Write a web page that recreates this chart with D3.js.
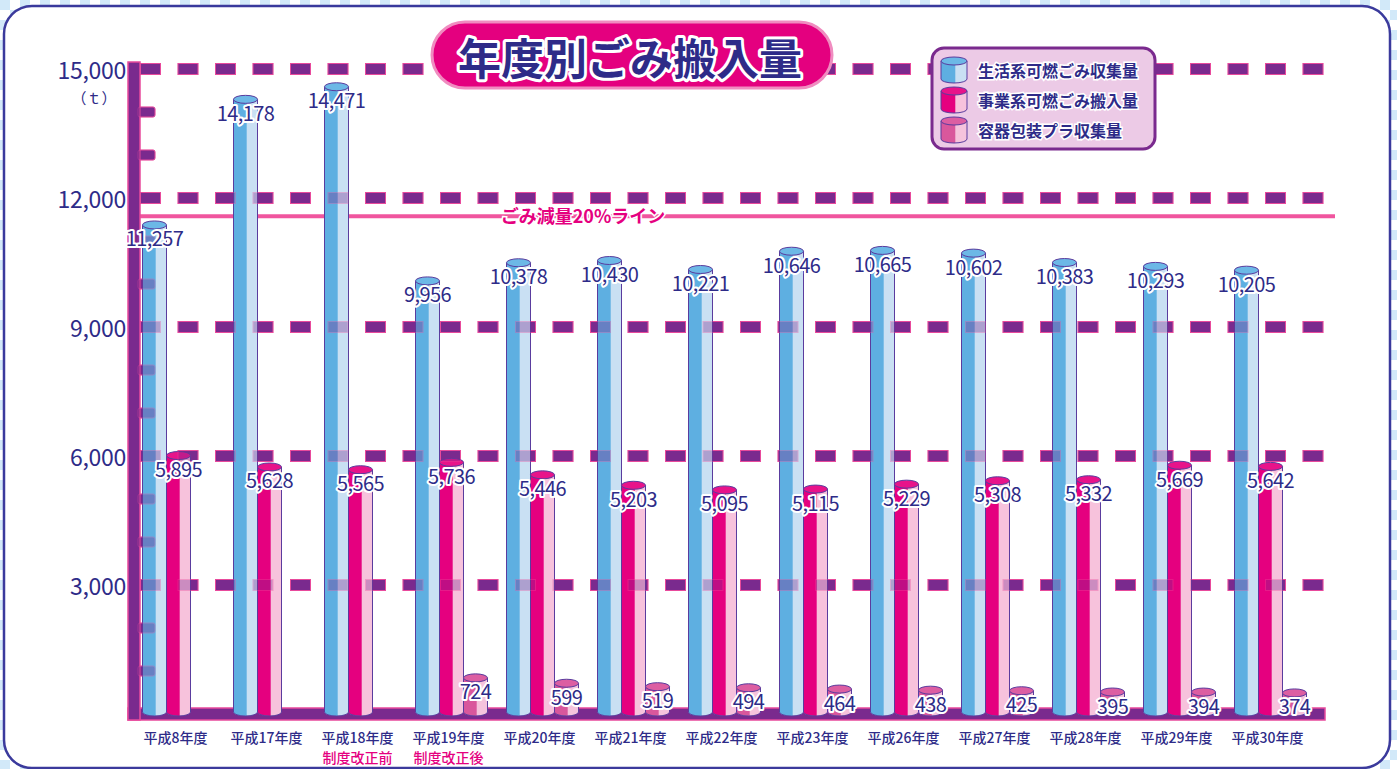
<!DOCTYPE html>
<html>
<head>
<meta charset="utf-8">
<script src="https://cdn.jsdelivr.net/npm/d3@7"></script>
<style>
  body { margin: 0; overflow: hidden; background: #fff; }
  svg { display: block; }
  text { font-family: "Noto Sans CJK JP", "Noto Sans", sans-serif; }
</style>
</head>
<body>
<svg id="chart" width="1397" height="769"></svg>
<script>
// data
const years = ["平成8年度", "平成17年度", "平成18年度", "平成19年度", "平成20年度", "平成21年度", "平成22年度",
  "平成23年度", "平成26年度", "平成27年度", "平成28年度", "平成29年度", "平成30年度"];
const burnable = [11257, 14178, 14471, 9956, 10378, 10430, 10221, 10646, 10665, 10602, 10383, 10293, 10205];
const business = [5895, 5628, 5565, 5736, 5446, 5203, 5095, 5115, 5229, 5308, 5332, 5669, 5642];
const plastic = [null, null, null, 724, 599, 519, 494, 464, 438, 425, 395, 394, 374];
const seriesNames = ["生活系可燃ごみ収集量", "事業系可燃ごみ搬入量", "容器包装プラ収集量"];
const yTicks = [3000, 6000, 9000, 12000, 15000];
const minorTicks = [1000, 2000, 4000, 5000, 7000, 8000, 10000, 11000, 13000, 14000];
const reductionLine = 11577;
const notes = { "平成18年度": "制度改正前", "平成19年度": "制度改正後" };

const colors = [
  { dark: "#5eafe1", light: "#c9e0f3", top: "#6cb8e6" },
  { dark: "#e5007f", light: "#f7c2dc", top: "#e8138a" },
  { dark: "#d9579c", light: "#f5c3dc", top: "#dc5ea2" }
];
const navy = "#2e2b88";
const purple = "#7a2a8e";
const pinkEdge = "#e84a9c";

const svg = d3.select("#chart");
const width = 1397, height = 769;

const x = d3.scaleBand().domain(years).range([133, 1316]);
const xs = d3.scaleBand().domain(d3.range(3)).range([-36, 36]);
const y = d3.scaleLinear().domain([0, 15000]).range([714, 69]);

// checker background
const defs = svg.append("defs");
const pat = defs.append("pattern").attr("id", "chk").attr("width", 20).attr("height", 20)
  .attr("patternUnits", "userSpaceOnUse");
pat.append("rect").attr("width", 20).attr("height", 20).attr("fill", "#fff");
pat.append("rect").attr("width", 10).attr("height", 10).attr("fill", "#d2e9f9");
pat.append("rect").attr("x", 10).attr("y", 10).attr("width", 10).attr("height", 10).attr("fill", "#d2e9f9");
svg.append("rect").attr("width", width).attr("height", height).attr("fill", "url(#chk)");
svg.append("rect").attr("x", 4).attr("y", 6).attr("width", 1386).attr("height", 762).attr("rx", 28)
  .attr("fill", "#fff").attr("stroke", "#3b3a9c").attr("stroke-width", 2.5);

// dashed grid
function grid(g) {
  g.selectAll(".gp").data(yTicks).join("line")
    .attr("x1", 140).attr("x2", 1326).attr("y1", d => y(d)).attr("y2", d => y(d))
    .attr("stroke", pinkEdge).attr("stroke-width", 12).attr("stroke-dasharray", "21 16.5");
  g.selectAll(".gq").data(yTicks).join("line")
    .attr("x1", 141).attr("x2", 1325).attr("y1", d => y(d)).attr("y2", d => y(d))
    .attr("stroke", purple).attr("stroke-width", 10).attr("stroke-dasharray", "19 18.5");
  g.selectAll(".mt").data(minorTicks).join("rect")
    .attr("x", 138).attr("y", d => y(d) - 5).attr("width", 17).attr("height", 10).attr("rx", 2)
    .attr("fill", purple).attr("stroke", pinkEdge).attr("stroke-width", 1);
}
svg.append("g").call(grid);

// 20% line
svg.append("line").attr("x1", 140).attr("x2", 1335)
  .attr("y1", y(reductionLine)).attr("y2", y(reductionLine))
  .attr("stroke", "#f0559e").attr("stroke-width", 4);

// axis bars
svg.append("rect").attr("x", 128).attr("y", 708).attr("width", 1197).attr("height", 12)
  .attr("fill", purple).attr("stroke", pinkEdge).attr("stroke-width", 1.5);
svg.append("rect").attr("x", 128).attr("y", 62).attr("width", 12).attr("height", 658)
  .attr("fill", purple).attr("stroke", pinkEdge).attr("stroke-width", 1.5);

function cylinder(g, x0, w, top, base, c) {
  const rx = w / 2, ry = 4, cx = x0 + rx;
  const split = x0 + w * 0.55;
  const dy = ry * Math.sqrt(1 - Math.pow((split - cx) / rx, 2));
  g.append("path")
    .attr("d", `M${x0},${top}L${x0},${base}A${rx},${ry} 0 0 0 ${x0 + w},${base}L${x0 + w},${top}Z`)
    .attr("fill", c.light);
  g.append("path")
    .attr("d", `M${x0},${top}L${x0},${base}A${rx},${ry} 0 0 0 ${split},${base + dy}L${split},${top}Z`)
    .attr("fill", c.dark);
  g.append("path")
    .attr("d", `M${x0},${top}L${x0},${base}A${rx},${ry} 0 0 0 ${x0 + w},${base}L${x0 + w},${top}`)
    .attr("fill", "none").attr("stroke", "#5a3c9e").attr("stroke-width", 1);
  g.append("ellipse").attr("cx", cx).attr("cy", top).attr("rx", rx).attr("ry", ry)
    .attr("fill", c.top).attr("stroke", "#5a3c9e").attr("stroke-width", 1);
}

const rows = years.map((yr, i) => ({ yr, vals: [burnable[i], business[i], plastic[i]] }));
const bars = svg.append("g");
rows.forEach(r => {
  r.vals.forEach((v, k) => {
    if (v == null) return;
    const x0 = x(r.yr) + x.bandwidth() / 2 + xs(k);
    cylinder(bars, x0, xs.bandwidth(), y(v) - 5, y(0) - 2, colors[k]);
  });
});

// grid shows faintly through bars
svg.append("g").attr("opacity", 0.35).call(grid);

// value labels
const labels = svg.append("g");
rows.forEach(r => {
  r.vals.forEach((v, k) => {
    if (v == null) return;
    labels.append("text")
      .attr("x", x(r.yr) + x.bandwidth() / 2 + xs(k) + xs.bandwidth() / 2)
      .attr("y", y(v) + 8)
      .attr("text-anchor", "middle").attr("dominant-baseline", "central")
      .attr("font-size", 20).attr("letter-spacing", -0.6)
      .attr("fill", navy).attr("stroke", "#fff").attr("stroke-width", 4)
      .attr("stroke-linejoin", "round").attr("paint-order", "stroke")
      .text(d3.format(",")(v));
  });
});

// y labels
svg.append("g").selectAll("text").data(yTicks).join("text")
  .attr("x", 126).attr("y", d => y(d)).attr("text-anchor", "end").attr("dominant-baseline", "central")
  .attr("font-size", 23).attr("letter-spacing", -0.3).attr("fill", navy).text(d => d3.format(",")(d));
svg.append("text").attr("x", 94).attr("y", 97).attr("text-anchor", "middle").attr("dominant-baseline", "central")
  .attr("font-size", 15).attr("fill", navy).text("（ｔ）");

// x labels
const xl = svg.append("g");
xl.selectAll(".cat").data(years).join("text")
  .attr("x", d => x(d) + x.bandwidth() / 2 - 3).attr("y", 737)
  .attr("text-anchor", "middle").attr("dominant-baseline", "central")
  .attr("font-size", 14).attr("font-weight", 500).attr("fill", navy).text(d => d);
xl.selectAll(".note").data(Object.keys(notes)).join("text")
  .attr("x", d => x(d) + x.bandwidth() / 2 - 3).attr("y", 757)
  .attr("text-anchor", "middle").attr("dominant-baseline", "central")
  .attr("font-size", 14).attr("font-weight", 500).attr("fill", "#e5007f").text(d => notes[d]);

// 20% line label
svg.append("text").attr("x", 583).attr("y", y(reductionLine) - 1)
  .attr("text-anchor", "middle").attr("dominant-baseline", "central")
  .attr("font-size", 18).attr("font-weight", 700).attr("fill", "#e5007f")
  .attr("stroke", "#fff").attr("stroke-width", 3).attr("paint-order", "stroke")
  .text("ごみ減量20%ライン");

// title
svg.append("rect").attr("x", 432).attr("y", 22).attr("width", 400).attr("height", 66).attr("rx", 33)
  .attr("fill", "#e4007f").attr("stroke", "#f08cc0").attr("stroke-width", 3);
svg.append("text").attr("x", 630).attr("y", 56)
  .attr("text-anchor", "middle").attr("dominant-baseline", "central")
  .attr("font-size", 43).attr("font-weight", 700).attr("fill", navy)
  .attr("stroke", "#fff").attr("stroke-width", 6).attr("stroke-linejoin", "round").attr("paint-order", "stroke")
  .text("年度別ごみ搬入量");

// legend
const lg = svg.append("g");
lg.append("rect").attr("x", 932).attr("y", 48).attr("width", 223).attr("height", 101).attr("rx", 12)
  .attr("fill", "#eccae6").attr("stroke", purple).attr("stroke-width", 3);
seriesNames.forEach((name, k) => {
  const cy = 70 + k * 30;
  cylinder(lg, 941, 26, cy - 9, cy + 9, colors[k]);
  lg.append("text").attr("x", 978).attr("y", cy)
    .attr("dominant-baseline", "central").attr("font-size", 16).attr("font-weight", 700)
    .attr("fill", navy).attr("stroke", "#fff").attr("stroke-width", 3).attr("paint-order", "stroke")
    .text(name);
});
</script>
</body>
</html>
